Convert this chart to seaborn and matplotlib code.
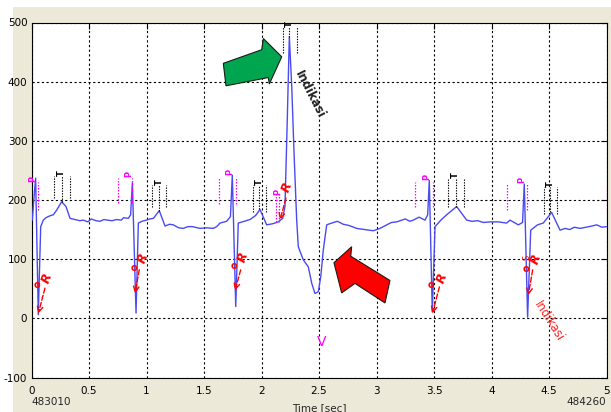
import matplotlib
matplotlib.use('Agg')
import matplotlib.pyplot as plt
import seaborn as sns
import pandas as pd
from matplotlib.patches import Polygon, Rectangle

# ---------------- data ----------------
time_s = [0.007, 0.02, 0.036, 0.059, 0.08, 0.103, 0.125, 0.146, 0.17, 0.19, 0.219, 0.262, 0.30, 0.335,
          0.378, 0.42, 0.45, 0.49, 0.52, 0.56, 0.596, 0.63, 0.66, 0.70, 0.74, 0.78, 0.80, 0.842, 0.862,
          0.877, 0.909, 0.929, 0.96, 1.0, 1.03, 1.06, 1.111, 1.161, 1.20,
          1.233, 1.28, 1.32, 1.36, 1.40, 1.465, 1.52, 1.581, 1.61, 1.639, 1.697, 1.73, 1.746, 1.776,
          1.798, 1.85, 1.90, 1.95, 1.987, 2.045,
          2.10, 2.146, 2.184, 2.204, 2.224, 2.242, 2.263, 2.283, 2.306, 2.32, 2.363, 2.407, 2.437,
          2.465, 2.494, 2.515, 2.537, 2.567, 2.61, 2.66, 2.711, 2.76, 2.828, 2.90, 2.972, 3.03, 3.089,
          3.13, 3.176, 3.25, 3.29, 3.32, 3.37, 3.422, 3.445, 3.459, 3.485, 3.509, 3.56, 3.61, 3.697,
          3.784, 3.83, 3.88, 3.93, 3.987, 4.06, 4.132, 4.161,
          4.233, 4.27, 4.285, 4.314, 4.341, 4.40, 4.45, 4.523, 4.596, 4.64, 4.68, 4.72, 4.77, 4.85,
          4.915, 4.96, 5.0]
ecg = [166, 200, 237, 6, 155, 166, 170, 172, 174, 175, 183, 197, 189, 169,
       167, 165, 166, 163, 168, 165, 164, 167, 166, 165, 167, 166, 170, 169, 175,
       229, 9, 161, 164, 166, 168, 169, 182, 156, 159,
       158, 153, 152, 155, 155, 152, 153, 152, 155, 161, 164, 172, 242, 20,
       161, 164, 167, 174, 184, 158,
       160, 163, 169, 189, 335, 476, 392, 279, 166, 121, 99, 87, 59,
       42, 45, 70, 115, 158, 161, 164, 159, 157, 152, 150, 148, 152, 158,
       162, 163, 168, 164, 166, 171, 166, 175, 233, 11, 155, 166, 175, 189,
       166, 164, 165, 162, 163, 163, 161, 166,
       158, 162, 227, 2, 149, 158, 161, 179, 149, 152, 150, 154, 152, 155,
       158, 154, 155]

x_ticks = [0, 0.5, 1, 1.5, 2, 2.5, 3, 3.5, 4, 4.5, 5]
x_tick_labels = ['0', '0.5', '1', '1.5', '2', '2.5', '3', '3.5', '4', '4.5', '5']
y_ticks = [-100, 0, 100, 200, 300, 400, 500]
y_tick_labels = ['-100', '0', '100', '200', '300', '400', '500']
start_sample = '483010'
end_sample = '484260'
x_title = 'Time [sec]'

# P markers: left dotted line t, text t, right dotted line t, line y-range, text y
p_left = [None, 0.755, 1.633, 2.13, 3.335, 4.137, 5.0]
p_text_t = [0.007, 0.85, 1.726, 2.137, 3.437, 4.263, None]
p_right = [0.06, 0.87, 1.778, 2.15, 3.494, 4.31, None]
p_ylo = [183, 195, 194, 163, 189, 183, 180]
p_yhi = [231, 237, 239, 211, 231, 228, 225]
p_text_y = [231, 239, 242, 208, 234, 228, None]

# T markers
t_left = [0.198, 1.05, 1.923, 2.19, 3.624, 4.457]
t_mid = [0.262, 1.111, 1.98, 2.24, 3.69, 4.51]
t_right = [0.335, 1.167, 2.037, 2.306, 3.76, 4.567]
t_ylo = [203, 189, 180, 448, 189, 177]
t_yhi = [240, 225, 225, 493, 237, 222]
t_peak = [197, 182, 184, 476, 189, 179]

# R markers
r_text_t = [0.132, 0.972, 1.842, 2.225, 3.567, 4.387]
r_text_y = [68, 101, 104, 222, 68, 99]
r_arrow_from = [(0.117, 51), (0.937, 82), (1.819, 82), (2.213, 203), (3.547, 53), (4.358, 82)]
r_arrow_to = [(0.059, 8), (0.9, 42), (1.77, 47), (2.16, 166), (3.486, 8), (4.32, 39)]
q_t = [0.05, 0.891, 1.764, 3.47, 4.30]
q_y = [56, 85, 88, 56, 83]

# block arrows (data coordinates)
green_arrow_t = [1.668, 2.002, 2.016, 2.176, 2.068, 2.059, 1.691]
green_arrow_y = [431, 454, 473, 442, 396, 407, 393]
red_arrow_t = [2.63, 2.784, 2.776, 3.117, 3.074, 2.813, 2.697]
red_arrow_y = [94, 121, 105, 64, 26, 59, 43]

# ---------------- figure ----------------
sns.set_style('white')
plt.rcParams['font.family'] = ['Liberation Sans Narrow', 'DejaVu Sans']

W, H = 611, 412
fig = plt.figure(figsize=(W / 100, H / 100), dpi=100)
fig.patch.set_facecolor('white')
fig.add_artist(Rectangle((13 / W, 0), 1 - 13 / W, 1 - 7 / H, transform=fig.transFigure,
                         facecolor='#ECE9D8', edgecolor='none', zorder=-10))

ax = fig.add_axes([31.5 / W, 1 - 377.5 / H, 575 / W, 355 / H])
ax.set_facecolor('white')

df = pd.DataFrame({'t': time_s, 'v': ecg})
sns.lineplot(data=df, x='t', y='v', ax=ax, color='#4a4af5', linewidth=1.0,
             sort=False, estimator=None, zorder=5)

ax.set_xlim(0, 5)
ax.set_ylim(-100, 500)
ax.set_xticks(x_ticks)
ax.set_xticklabels(x_tick_labels)
ax.set_yticks(y_ticks)
ax.set_yticklabels(y_tick_labels)
ax.tick_params(direction='in', length=4, width=0.8, top=True, right=True,
               labelsize=7.5, colors='black')
ax.tick_params(axis='x', pad=6)
ax.tick_params(axis='y', pad=3)
ax.set_xlabel('')
ax.set_ylabel('')
ax.grid(True, color='black', linestyle=(0, (2, 2.2)), linewidth=0.8)
for s in ax.spines.values():
    s.set_color('black')
    s.set_linewidth(0.8)

ax.text(0, -0.068, start_sample, transform=ax.get_xaxis_transform(), ha='left', va='center',
        fontsize=7.5)
ax.text(5, -0.068, end_sample, transform=ax.get_xaxis_transform(), ha='right', va='center',
        fontsize=7.5)
ax.text(2.5, -0.086, x_title, transform=ax.get_xaxis_transform(), ha='center', va='center',
        fontsize=7.5)

dot = (0, (1.2, 1.2))
# P markers
for i in range(len(p_left)):
    for tt in (p_left[i], p_right[i]):
        if tt is not None:
            ax.plot([tt, tt], [p_ylo[i], p_yhi[i]], color='#ff00ff', linestyle=dot, lw=0.9, zorder=6)
    if p_text_t[i] is not None:
        ax.text(p_text_t[i], p_text_y[i], 'P', color='#ff00ff', fontsize=6, rotation=90,
                ha='center', va='bottom', zorder=7, fontweight='bold')

# T markers
for i in range(len(t_left)):
    for tt in (t_left[i], t_right[i]):
        ax.plot([tt, tt], [t_ylo[i], t_yhi[i]], color='black', linestyle=dot, lw=0.8, zorder=6)
    ax.plot([t_mid[i], t_mid[i]], [t_peak[i], t_yhi[i]], color='black', linestyle=dot, lw=0.8, zorder=6)
    ax.text(t_mid[i], t_yhi[i], 'T', color='black', fontsize=6, rotation=90,
            ha='center', va='bottom', zorder=7, fontweight='bold')

# R markers
for i in range(len(r_text_t)):
    ax.annotate('', xy=r_arrow_to[i], xytext=r_arrow_from[i],
                arrowprops=dict(arrowstyle='->', color='red', linestyle='--', lw=1.0,
                                shrinkA=0, shrinkB=0), zorder=7)
    ax.text(r_text_t[i], r_text_y[i], 'R', color='red', fontsize=9, rotation=70,
            ha='center', va='center', zorder=7, fontstyle='italic', fontweight='bold')
for i in range(len(q_t)):
    ax.text(q_t[i], q_y[i], 'o', color='red', fontsize=7, ha='center', va='center', zorder=7,
            fontweight='bold')
ax.text(4.305, 103, 'S', color='red', fontsize=6, rotation=90, ha='center', va='center', zorder=7)

# block arrows
ax.add_patch(Polygon(list(zip(green_arrow_t, green_arrow_y)), closed=True, facecolor='#00a54f',
                     edgecolor='#1a1a1a', lw=0.8, zorder=8))
ax.add_patch(Polygon(list(zip(red_arrow_t, red_arrow_y)), closed=True, facecolor='#ff0000',
                     edgecolor='#1a1a1a', lw=0.8, zorder=8))

# texts
ax.text(2.42, 378, 'Indikasi', color='#222222', fontsize=8.5, rotation=-63, ha='center', va='center',
        zorder=7, fontweight='bold')
ax.text(4.5, -5, 'Indikasi', color='#ff2020', fontsize=8.5, rotation=-58, ha='center', va='center',
        zorder=7)
ax.text(2.52, -40, 'V', color='#ff00ff', fontsize=10, ha='center', va='center', zorder=7)

fig.savefig('out.png', dpi=100, facecolor=fig.get_facecolor())
